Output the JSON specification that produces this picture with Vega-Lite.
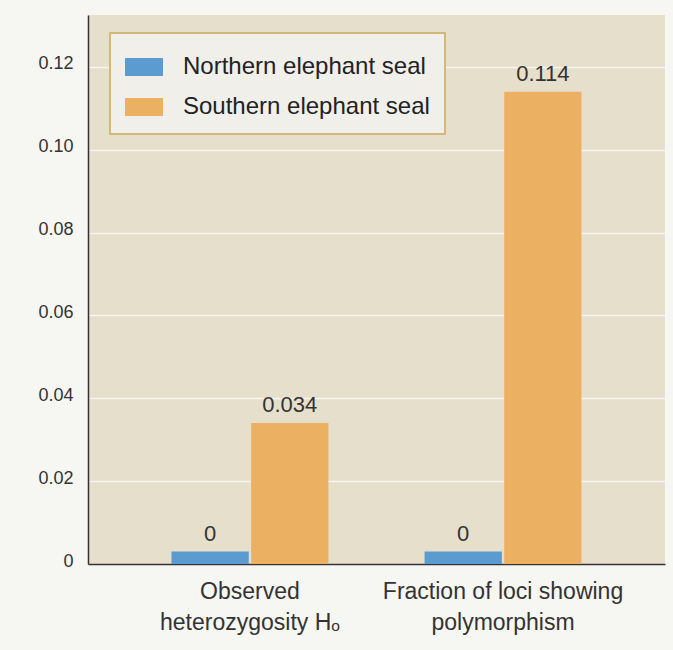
{
  "$schema": "https://vega.github.io/schema/vega-lite/v6.json",
  "autosize": {"type": "none"},
  "padding": {"left": 88, "top": 15, "right": 8, "bottom": 86},
  "width": 577,
  "height": 549,
  "background": "#f6f6f3",
  "config": {
    "view": {"fill": "#e6dfcc", "stroke": null},
    "font": "Liberation Sans"
  },
  "data": {
    "values": [
      {"group": "Observed|heterozygosity Hₒ", "species": "Northern elephant seal", "value": 0.003, "label": "0"},
      {"group": "Observed|heterozygosity Hₒ", "species": "Southern elephant seal", "value": 0.034, "label": "0.034"},
      {"group": "Fraction of loci showing|polymorphism", "species": "Northern elephant seal", "value": 0.003, "label": "0"},
      {"group": "Fraction of loci showing|polymorphism", "species": "Southern elephant seal", "value": 0.114, "label": "0.114"}
    ]
  },
  "encoding": {
    "x": {
      "field": "group", "type": "nominal", "sort": null,
      "scale": {"paddingInner": 0.38, "paddingOuter": 0.33},
      "axis": {
        "title": null, "labelAngle": 0, "ticks": false,
        "domainColor": "#333333", "domainWidth": 1.5,
        "labelFontSize": 23, "labelLineHeight": 31, "labelPadding": 16, "labelLimit": 400,
        "labelColor": "#333333", "labelExpr": "split(datum.label, '|')"
      }
    },
    "xOffset": {
      "field": "species", "type": "nominal", "sort": ["Northern elephant seal", "Southern elephant seal"],
      "scale": {"paddingInner": 0.03}
    },
    "y": {
      "field": "value", "type": "quantitative",
      "scale": {"domain": [0, 0.1325], "nice": false, "zero": true},
      "axis": {
        "title": null, "values": [0, 0.02, 0.04, 0.06, 0.08, 0.1, 0.12],
        "labelExpr": "datum.value == 0 ? '0' : format(datum.value, '.2f')",
        "grid": true, "gridColor": "#ffffff", "gridWidth": 1.5, "gridOpacity": 0.7,
        "ticks": false, "domainColor": "#333333", "domainWidth": 1.5,
        "labelPadding": 15, "labelFontSize": 18, "labelColor": "#333333", "labelOffset": -3
      }
    }
  },
  "layer": [
    {
      "mark": {"type": "bar"},
      "encoding": {
        "color": {
          "field": "species", "type": "nominal",
          "scale": {"domain": ["Northern elephant seal", "Southern elephant seal"], "range": ["#5b9bd0", "#ecb063"]},
          "legend": {
            "title": null, "orient": "none", "legendX": 22, "legendY": 18,
            "fillColor": "#f0efea", "strokeColor": "#d4b878", "padding": 15,
            "symbolType": "M-1,-0.47H1V0.47H-1Z", "symbolSize": 1444,
            "symbolStrokeWidth": 0, "symbolOpacity": 1,
            "labelFontSize": 24, "labelColor": "#222222", "labelOffset": 20,
            "rowPadding": 9, "labelLimit": 400,
            "encode": {"legend": {"update": {"strokeWidth": {"value": 2}}}}
          }
        }
      }
    },
    {
      "mark": {"type": "text", "baseline": "alphabetic", "dy": -11, "fontSize": 22, "color": "#333333"},
      "encoding": {"text": {"field": "label"}}
    }
  ]
}
